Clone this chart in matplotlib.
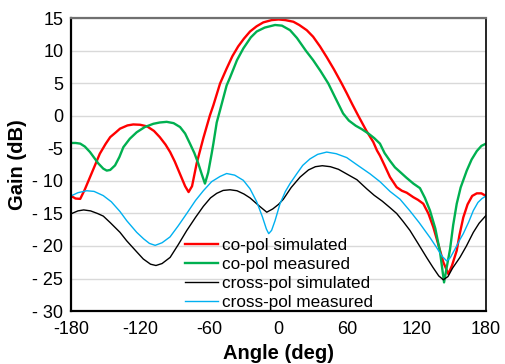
import matplotlib
matplotlib.use("Agg")
import matplotlib.pyplot as plt

plt.rcParams['font.family'] = ['Liberation Sans', 'DejaVu Sans']

# co-pol simulated (angle in deg, gain in dB)
co_sim_ang = [-180, -176, -172, -168, -163.5, -159, -155, -150, -146, -141, -137.5, -131,
              -126, -120, -114, -108, -103, -98, -94, -90, -85.5, -81, -78, -75, -71,
              -65.2, -59.5, -56.5, -50.7, -45, -40, -35, -30, -24.7, -19, -13.2, -6,
              0, 6, 12.9, 18, 24.5, 30, 36, 42, 48, 54.8, 59.2, 64, 69, 76, 82.2, 85.4,
              88, 92, 96.7, 102.5, 107, 111.2, 117, 121, 125.6, 130, 134.3, 139, 143, 147.3,
              150.5, 154.6, 157, 160.3, 164, 168, 172, 176, 180]
co_sim_gain = [-12.3, -12.7, -12.75, -11.3, -9.4, -7.5, -5.8, -4.3, -3.25, -2.5, -1.95, -1.45,
               -1.3, -1.35, -1.6, -2.3, -3.25, -4.4, -5.55, -7.0, -8.9, -10.8, -11.7, -10.8, -7.3,
               -3.4, 0.1, 1.65, 5.0, 7.3, 9.2, 10.7, 11.9, 13.0, 13.8, 14.4, 14.75,
               14.85, 14.75, 14.5, 14.0, 13.2, 12.2, 10.7, 9.0, 7.2, 5.0, 3.5, 1.8, 0.1, -2.2, -4.0, -5.3,
               -6.1, -7.6, -9.4, -10.95, -11.5, -11.8, -12.5, -12.9, -13.5, -15.0, -17.1, -20.0, -22.5, -24.3,
               -23.0, -20.7, -18.3, -15.6, -13.6, -12.3, -11.9, -11.9, -12.3]

# co-pol measured
co_meas_ang = [-180, -176, -172, -168, -163.5, -160, -156.3, -152, -149, -146, -141.8, -138,
               -134.6, -129, -123, -116, -108.6, -103, -97, -91, -85.4, -81, -76.8, -73,
               -69.6, -66.5, -63.8, -61, -58, -56.5, -53.6, -50.7, -45, -42.1, -36, -30.5,
               -24, -18.9, -12, -3, 3, 10, 16, 23.9, 30, 36.5, 43.2, 49, 56, 61, 67, 72, 78,
               83, 88, 92, 96.7, 101, 105.4, 111, 117, 122.7, 127, 131.4, 136, 140.1, 143.6,
               146, 148.8, 151.5, 154.6, 158, 163.3, 167.5, 172, 176, 180]
co_meas_gain = [-4.15, -4.15, -4.25, -4.7, -5.55, -6.4, -7.3, -8.1, -8.4, -8.3, -7.6, -6.3,
                -4.8, -3.5, -2.5, -1.7, -1.2, -1.0, -0.9, -1.1, -1.7, -2.7, -4.25, -5.7,
                -7.3, -9.0, -10.4, -8.7, -5.8, -4.25, -1.0, 0.9, 4.7, 5.9, 8.6, 10.4,
                12.1, 13.0, 13.6, 14.0, 13.9, 13.2, 12.0, 10.0, 8.6, 6.9, 5.0, 2.9, 0.4, -0.7, -1.5, -2.0, -2.7,
                -3.4, -4.25, -5.7, -6.9, -7.9, -8.6, -9.5, -10.4, -11.1, -12.6, -14.55, -17.3, -20.9, -25.6,
                -23.2, -20.5, -16.8, -13.5, -11.0, -8.4, -6.7, -5.4, -4.6, -4.25]

# cross-pol simulated
x_sim_ang = [-180, -174, -169, -163, -157, -152, -146, -137.5, -131.7, -123, -117.3, -111,
             -106.3, -101, -94, -87, -79.7, -72, -65.2, -59, -53.6, -48, -42, -36, -30,
             -24.7, -17, -10.2, -5, 0, 4.2, 11, 18.7, 26, 32, 38, 45, 52, 56, 68, 76.5,
             83, 90, 96.7, 102.5, 108, 114, 121, 128.6, 134, 139, 143, 147, 151, 157.4,
             163, 169, 174, 180]
x_sim_gain = [-15.05, -14.6, -14.45, -14.6, -15.0, -15.4, -16.4, -17.9, -19.2, -20.9, -22.0, -22.8,
              -23.0, -22.7, -21.75, -19.8, -17.65, -15.6, -13.9, -12.6, -11.9, -11.45, -11.35, -11.5, -12.0,
              -12.6, -13.8, -14.8, -14.3, -13.6, -12.8, -11.0, -9.4, -8.3, -7.8, -7.65, -7.8, -8.2, -8.6, -9.8, -11.2,
              -12.2, -13.1, -14.1, -15.0, -16.2, -17.6, -19.6, -21.8, -23.3, -24.6, -25.2, -24.7, -23.4, -21.75,
              -20.0, -17.9, -16.5, -15.3]

# cross-pol measured
x_meas_ang = [-180, -174, -166.4, -160, -152, -145, -137.5, -131.7, -123, -117, -112, -107,
              -101, -94.1, -87, -79.6, -72, -65.2, -58, -50.7, -45, -38, -30.5, -24.7, -18.9,
              -14, -10.5, -8.5, -6, -3, 1.3, 6, 10, 15.8, 21, 27.3, 34, 41.8, 50, 59.2, 68,
              79.4, 88, 96.7, 105.4, 114, 122, 131.4, 137, 142, 145.9, 149, 153, 157.4, 160.3,
              165, 169, 173, 176.5, 180]
x_meas_gain = [-12.3, -11.8, -11.5, -11.6, -12.25, -13.2, -14.7, -16.1, -17.9, -18.9, -19.6, -19.9,
               -19.5, -18.6, -16.9, -15.0, -13.0, -11.5, -10.1, -9.3, -8.85, -9.1, -9.9, -11.2, -13.2,
               -15.5, -17.4, -18.1, -17.6, -16.1, -13.5, -11.6, -10.4, -8.9, -7.6, -6.6, -5.9, -5.55, -5.8, -6.4, -7.5,
               -8.9, -10.1, -11.6, -12.8, -14.6, -16.4, -18.7, -20.2, -21.6, -22.3, -21.8, -20.5, -19.0, -18.1,
               -16.3, -14.55, -13.3, -12.7, -12.3]

x_ticks = [-180, -120, -60, 0, 60, 120, 180]
y_ticks = [-30, -25, -20, -15, -10, -5, 0, 5, 10, 15]
y_tick_labels = ['- 30', '- 25', '- 20', '- 15', '- 10', '-5', '0', '5', '10', '15']

fig = plt.figure(figsize=(5.05, 3.64), dpi=100)
ax = fig.add_axes([0.1406, 0.1456, 0.8218, 0.8036])

ax.plot(co_sim_ang, co_sim_gain, color='#FF0000', lw=1.7, label='co-pol simulated')
ax.plot(co_meas_ang, co_meas_gain, color='#00B050', lw=1.7, label='co-pol measured')
ax.plot(x_sim_ang, x_sim_gain, color='black', lw=1.0, label='cross-pol simulated')
ax.plot(x_meas_ang, x_meas_gain, color='#00B0F0', lw=1.0, label='cross-pol measured')

ax.set_xlim(-180, 180)
ax.set_ylim(-30, 15)
ax.set_xticks(x_ticks)
ax.set_xticklabels([str(t) for t in x_ticks])
ax.set_yticks(y_ticks)
ax.set_yticklabels(y_tick_labels)
ax.tick_params(length=0, labelsize=13)
ax.tick_params(axis='x', pad=7.5)
ax.tick_params(axis='y', pad=5.5)
ax.yaxis.grid(True, color='#D9D9D9', lw=1.0)
ax.set_axisbelow(True)

for side in ['left', 'bottom']:
    ax.spines[side].set_color('black')
    ax.spines[side].set_linewidth(1.6)
ax.spines['top'].set_color('#707070')
ax.spines['top'].set_linewidth(1.6)
ax.spines['right'].set_color('black')
ax.spines['right'].set_linewidth(1.2)

ax.set_xlabel('Angle (deg)', fontsize=14.5, fontweight='bold', labelpad=4)
ax.set_ylabel('Gain (dB)', fontsize=14.5, fontweight='bold', labelpad=4)

ax.legend(loc='upper left', bbox_to_anchor=(0.2747, 0.248), frameon=False, fontsize=12.3,
          handlelength=1.93, handletextpad=0.23, labelspacing=0.22, borderpad=0.0,
          borderaxespad=0.0)

fig.savefig('out.png', dpi=100)
